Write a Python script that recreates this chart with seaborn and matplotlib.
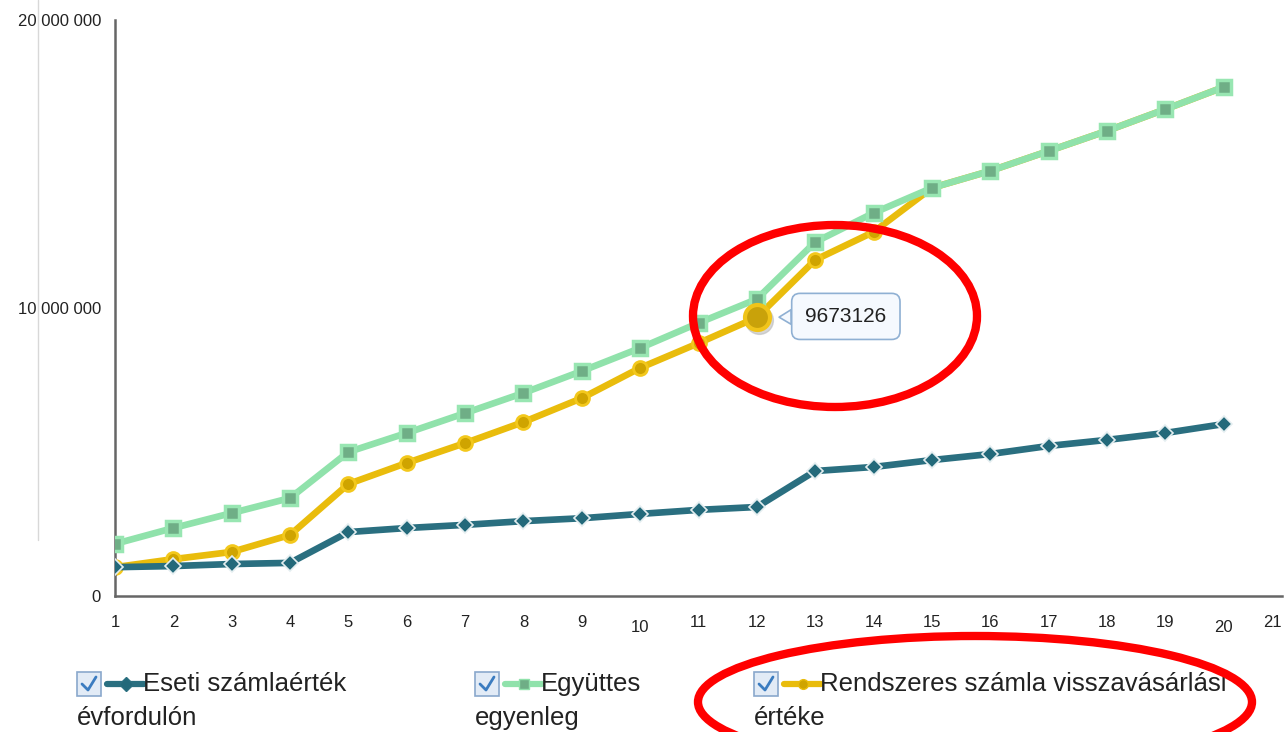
import matplotlib
matplotlib.use("Agg")
import matplotlib.pyplot as plt
import seaborn as sns
import pandas as pd
from matplotlib.patches import Ellipse, Rectangle
from matplotlib.lines import Line2D

# data
years = list(range(1, 21))
eseti = [1000000, 1040000, 1110000, 1150000, 2220000, 2360000, 2470000, 2600000, 2700000, 2850000,
         2990000, 3090000, 4340000, 4480000, 4720000, 4930000, 5210000, 5420000, 5660000, 5970000]
egyuttes = [1810000, 2360000, 2880000, 3400000, 5000000, 5660000, 6350000, 7050000, 7810000, 8610000,
            9480000, 10310000, 12290000, 13300000, 14170000, 14760000, 15450000, 16150000, 16900000, 17670000]
rendszeres = [1000000, 1280000, 1530000, 2120000, 3890000, 4620000, 5310000, 6040000, 6870000, 7920000,
              8780000, 9673126, 11670000, 12640000, 14170000, 14760000, 15450000, 16150000, 16900000, 17670000]
y_ticks = [0, 10000000, 20000000]
x_ticks = list(range(1, 22))
legend_first = ["Eseti számlaérték", "Együttes", "Rendszeres számla visszavásárlási"]
legend_second = ["évfordulón", "egyenleg", "értéke"]
highlight = 11  # year 12 of the yellow series

df = pd.DataFrame({"ev": years, "eseti": eseti, "egyuttes": egyuttes, "rendszeres": rendszeres})

sns.set_style("white")
plt.rcParams["font.family"] = ["Liberation Sans", "DejaVu Sans"]

W, H = 1288, 732
fig = plt.figure(figsize=(W / 100, H / 100), dpi=100)
ax = fig.add_axes([115 / W, 1 - 596 / H, (1282 - 115) / W, (596 - 20) / H])

teal, green, yellow = "#2a6f80", "#90e2ab", "#e9bc0c"

sns.lineplot(data=df, x="ev", y="rendszeres", ax=ax, color=yellow, lw=4.8, marker="o", ms=10,
             markerfacecolor="#cfa400", markeredgecolor="#f3c81c", markeredgewidth=2, zorder=2)
sns.lineplot(data=df, x="ev", y="egyuttes", ax=ax, color=green, lw=4.8, marker="s", ms=10,
             markerfacecolor="#6fae86", markeredgecolor="#98e6b2", markeredgewidth=2.5, zorder=3)
sns.lineplot(data=df, x="ev", y="eseti", ax=ax, color=teal, lw=4.8, marker="D", ms=8,
             markerfacecolor="#23697a", markeredgecolor="#e4eef0", markeredgewidth=1.2, zorder=4)

# hovered point + tooltip
hx, hy = years[highlight], rendszeres[highlight]
ax.plot([hx], [hy], "o", ms=20, color="#bbbbbb", alpha=0.6, zorder=5,
        transform=ax.transData + matplotlib.transforms.ScaledTranslation(2 / 100, -3 / 100, fig.dpi_scale_trans))
ax.plot([hx], [hy], "o", ms=18, markerfacecolor="#c9a20a", markeredgecolor="#f0c419", markeredgewidth=3, zorder=6)
ax.annotate(f"{hy}", xy=(hx, hy), xytext=(89, 1), textcoords="offset pixels", ha="center", va="center",
            fontsize=15, color="#222222", zorder=7,
            bbox=dict(boxstyle="round,pad=0.65,rounding_size=0.4", fc="#f5f9fe", ec="#8fb0d3", lw=1.2),
            arrowprops=dict(arrowstyle="wedge,tail_width=0.7", fc="#f5f9fe", ec="#8fb0d3", lw=1.2,
                            shrinkA=0, shrinkB=16))

ax.set_xlim(1, 21)
ax.set_ylim(0, 20000000)
ax.set_xticks(x_ticks)
ax.set_yticks(y_ticks)
ax.set_yticklabels([f"{v:,}".replace(",", " ") for v in y_ticks])
ax.set_xlabel("")
ax.set_ylabel("")
sns.despine(ax=ax)
for side in ("left", "bottom"):
    ax.spines[side].set_color("#666666")
    ax.spines[side].set_linewidth(1.8)
ax.tick_params(axis="both", length=5, width=1.5, color="#666666", labelsize=12, labelcolor="#222222")
ax.tick_params(axis="y", pad=5)
ax.tick_params(axis="x", pad=8.5)
for i in (9, 19):
    t = ax.xaxis.get_major_ticks()[i]
    t.tick1line.set_markersize(9)
    t.set_pad(12)
# last label sits against the right edge, keep it inside
ax.get_xticklabels()[-1].set_horizontalalignment("right")

# faint vertical line at the far left
fig.add_artist(Line2D([38 / W, 38 / W], [1, 1 - 540 / H], color="#d8d8d8", lw=1))

# legend below the chart
def fx(px):
    return px / W

def fy(py):
    return 1 - py / H

legend_x = [77, 475, 754]
legend_colors = [teal, green, yellow]
legend_markers = ["D", "s", "o"]
legend_face = ["#23697a", "#6fae86", "#cfa400"]
for x0, c, m, mf, t1, t2 in zip(legend_x, legend_colors, legend_markers, legend_face, legend_first, legend_second):
    fig.add_artist(Rectangle((fx(x0), fy(696)), 24 / W, 24 / H, transform=fig.transFigure,
                             fc="#e2ebf6", ec="#8aa8cc", lw=1.2))
    fig.add_artist(Line2D([fx(x0 + 5), fx(x0 + 11), fx(x0 + 19)], [fy(684), fy(690), fy(677)],
                          color="#3b7cc0", lw=2))
    fig.add_artist(Line2D([fx(x0 + 30), fx(x0 + 67)], [fy(684), fy(684)], color=c, lw=4.5))
    fig.add_artist(Line2D([fx(x0 + 49)], [fy(684)], marker=m, ms=7, markerfacecolor=mf,
                          markeredgecolor=c, lw=0))
    fig.text(fx(x0 + 66), fy(684), t1, fontsize=18.5, color="#222222", va="center", ha="left")
    fig.text(fx(x0), fy(718), t2, fontsize=18.5, color="#222222", va="center", ha="left")

# red annotation ellipses
fig.add_artist(Ellipse((fx(835), fy(316)), 284 / W, 182 / H, transform=fig.transFigure,
                       fill=False, ec="#ff0000", lw=6, zorder=10))
fig.add_artist(Ellipse((fx(975), fy(702)), 554 / W, 132 / H, transform=fig.transFigure,
                       fill=False, ec="#ff0000", lw=6, zorder=10))

fig.savefig("out.png", dpi=100)
